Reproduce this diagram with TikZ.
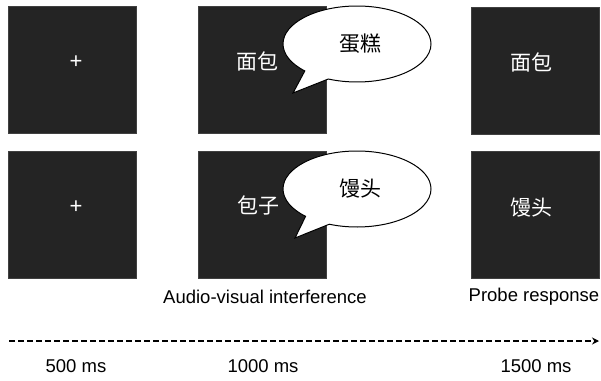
\documentclass[tikz,border=0pt]{standalone}
\usepackage{fontspec}
\setmainfont{Liberation Sans}
\newfontfamily\cjk{Noto Sans CJK SC}
\usetikzlibrary{shapes.callouts,arrows.meta}
\begin{document}
\begin{tikzpicture}[x=1pt,y=-1pt,
  screen/.style={draw=black!75,line width=0.8pt,fill=black!86,minimum width=128pt,minimum height=127pt,inner sep=0pt},
  word/.style={text=white,inner sep=0pt,font=\cjk\fontsize{21}{21}\selectfont},
  cross/.style={text=white,inner sep=0pt,font=\fontsize{22}{22}\selectfont},
  bubble/.style={ellipse callout,draw=black,line width=1pt,fill=white,minimum width=148pt,minimum height=76pt,callout pointer arc=22,inner sep=0pt,font=\cjk\fontsize{21}{21}\selectfont},
  lab/.style={font=\fontsize{18.5}{18.5}\selectfont,inner sep=0pt}]
\useasboundingbox (0,0) rectangle (601,380);
% row 1
\node[screen] (a1) at (72,70) {};
\node[screen] (b1) at (262,70) {};
\node[screen] (c1) at (535,71) {};
\node[cross] (x1) at (76,62) {+};
\node[word] (w1) at (257,61) {面包};
\node[word] (v1) at (531,62) {面包};
\coordinate (p1) at (293,93);
\node[bubble,callout absolute pointer=(p1)] (s1) at (357,44) {\raisebox{3pt}{\hspace{6pt}蛋糕}};
% row 2
\node[screen] (a2) at (72,215) {};
\node[screen] (b2) at (262,215) {};
\node[screen] (c2) at (535,215) {};
\node[cross] (x2) at (76,207) {+};
\node[word] (w2) at (258,205) {包子};
\node[word] (v2) at (531,208) {馒头};
\coordinate (p2) at (295,238);
\node[bubble,callout absolute pointer=(p2)] (s2) at (357,189) {\raisebox{3pt}{\hspace{6pt}馒头}};
% labels
\node[lab] (l1) at (265,297) {Audio-visual interference};
\node[lab] (l2) at (534,297) {Probe response};
% time line
\coordinate (t0) at (9,341);
\coordinate (t1) at (599,341);
\draw[line width=2.2pt,dash pattern=on 6pt off 3pt,-{Stealth[length=7pt,width=7pt]}] (t0) -- (t1);
\node[lab] (m1) at (76,366) {500 ms};
\node[lab] (m2) at (263,366) {1000 ms};
\node[lab] (m3) at (536,366) {1500 ms};
\end{tikzpicture}
\end{document}
